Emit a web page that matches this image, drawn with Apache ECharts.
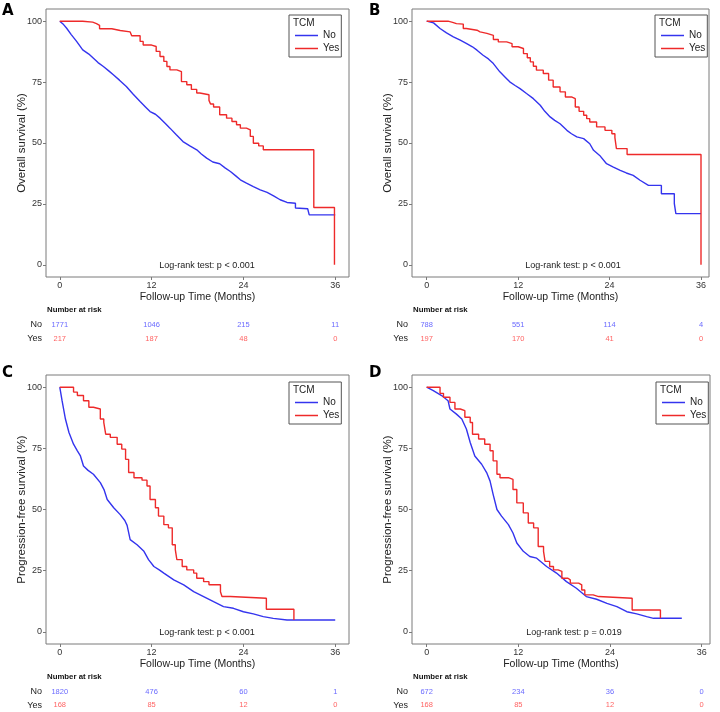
<!DOCTYPE html>
<html><head><meta charset="utf-8">
<script src="https://cdn.jsdelivr.net/npm/echarts@6/dist/echarts.min.js"></script>
<style>html,body{margin:0;padding:0;background:#fff}#c{width:720px;height:712px}</style>
</head><body><div id="c"></div>
<script>
// ---------- tick labels / categories ----------
const tickMonths = [0, 12, 24, 36];
const tickPct = [0, 25, 50, 75, 100];
const riskTimes = [0, 12, 24, 36];
const groups = ['No', 'Yes'];
const panelLetters = ['A', 'B', 'C', 'D'];
const yTitles = ['Overall survival (%)', 'Overall survival (%)', 'Progression-free survival (%)', 'Progression-free survival (%)'];
const pTexts = ['Log-rank test: p < 0.001', 'Log-rank test: p < 0.001', 'Log-rank test: p < 0.001', 'Log-rank test: p = 0.019'];

// ---------- Panel A (OS, all) ----------
const A_no_t = [0, 0.5, 0.9, 1.5, 2.2, 3.0, 3.8, 4.4, 5.0, 5.7, 6.4, 7.0, 7.8, 8.7, 9.6, 10.5, 11.2, 11.8, 12.5, 13.1, 13.8, 14.4, 15.2, 16.1, 17.0, 17.9, 18.5, 19.2, 20.0, 20.9, 21.6, 22.3, 23.0, 23.6, 24.4, 25.3, 26.2, 27.1, 28.0, 28.8, 29.7, 30.8, 30.8, 32.4, 32.6, 36.0];
const A_no_s = [100, 98.6, 97.1, 94.5, 91.7, 88.2, 86.5, 84.8, 83.0, 81.4, 79.6, 78.0, 75.8, 73.2, 70.0, 67.0, 64.8, 62.9, 61.8, 60.2, 58.0, 56.1, 53.5, 50.6, 48.8, 47.2, 45.5, 43.8, 42.2, 41.5, 39.8, 38.3, 36.5, 34.9, 33.5, 32.1, 30.8, 29.7, 28.2, 26.7, 25.6, 25.3, 23.3, 23.0, 20.5, 20.5];
const A_yes_t = [0, 3.0, 4.3, 4.8, 5.2, 6.8, 7.9, 9.2, 9.4, 10.5, 10.9, 12.0, 12.6, 13.1, 13.6, 14.0, 14.4, 15.3, 15.9, 16.6, 17.2, 17.9, 18.3, 19.5, 19.7, 20.1, 20.9, 21.8, 22.5, 23.1, 23.6, 24.4, 24.9, 25.3, 26.0, 26.6, 33.2, 35.9];
const A_yes_s = [100, 99.6, 99.0, 98.3, 96.9, 96.2, 95.6, 95.0, 94.0, 91.7, 90.2, 89.6, 87.6, 85.5, 83.5, 81.4, 80.0, 79.3, 75.2, 73.9, 72.0, 70.5, 69.8, 67.5, 66.0, 64.8, 61.6, 60.2, 58.8, 57.5, 56.1, 55.4, 52.7, 49.9, 48.8, 47.2, 23.5, 0];
const A_risk_no = [1771, 1046, 215, 11];
const A_risk_yes = [217, 187, 48, 0];

// ---------- Panel B (OS, subgroup) ----------
const B_no_t = [0, 0.9, 1.75, 2.6, 3.5, 4.4, 5.25, 6.0, 6.6, 7.4, 8.1, 8.75, 9.6, 10.3, 10.9, 11.6, 12.25, 13.1, 14.0, 14.9, 15.5, 16.2, 16.8, 17.5, 18.4, 19.0, 19.7, 20.6, 21.4, 21.9, 22.7, 23.6, 24.5, 25.4, 26.2, 27.1, 28.0, 29.1, 30.8, 30.8, 32.5, 32.5, 32.7, 32.7, 36.0];
const B_no_s = [100, 99.3, 97.0, 95.2, 93.6, 92.2, 90.8, 89.5, 88.1, 86.0, 84.5, 82.6, 79.2, 77.0, 75.1, 73.6, 72.3, 70.3, 68.2, 65.5, 63.0, 60.7, 59.3, 57.9, 55.2, 53.8, 52.5, 51.8, 49.7, 47.0, 44.9, 41.5, 40.1, 38.8, 37.7, 36.7, 34.7, 32.6, 32.6, 29.2, 29.2, 25.1, 25.1, 21.0, 21.0];
const B_yes_t = [0, 2.8, 3.4, 3.9, 4.8, 5.2, 6.6, 7.0, 7.9, 8.75, 9.4, 10.5, 11.2, 12.0, 12.7, 13.2, 13.6, 14.0, 14.4, 15.3, 16.0, 16.6, 17.5, 18.2, 19.0, 19.5, 20.0, 20.6, 21.0, 21.4, 22.3, 23.4, 24.3, 24.7, 24.9, 26.3, 36.0];
const B_yes_s = [100, 99.5, 99.0, 98.8, 97.0, 96.3, 95.6, 95.0, 94.2, 92.5, 91.5, 90.8, 89.5, 88.8, 86.7, 85.0, 83.3, 81.5, 79.9, 78.5, 75.8, 73.0, 71.0, 68.9, 68.2, 64.8, 63.0, 61.4, 60.0, 58.6, 56.6, 55.2, 53.8, 52.2, 47.7, 45.3, 0];
const B_risk_no = [788, 551, 114, 4];
const B_risk_yes = [197, 170, 41, 0];

// ---------- Panel C (PFS, all) ----------
const C_no_t = [0, 0.3, 0.74, 1.2, 1.8, 2.3, 2.7, 3.1, 3.7, 4.4, 5.3, 5.8, 6.2, 7.05, 7.9, 8.5, 8.8, 9.2, 10.1, 11.0, 11.6, 12.3, 13.0, 13.6, 14.9, 16.2, 17.5, 18.8, 20.1, 21.4, 22.7, 24.0, 25.3, 26.6, 27.9, 29.7, 36.0];
const C_no_s = [100, 94.5, 87.0, 81.5, 76.7, 74.0, 71.9, 67.8, 66.0, 64.4, 61.0, 58.0, 54.1, 50.7, 47.9, 45.5, 43.5, 37.7, 35.6, 32.9, 29.5, 26.7, 25.3, 24.0, 21.2, 19.2, 16.4, 14.4, 12.3, 10.3, 9.6, 8.2, 7.3, 6.2, 5.5, 4.8, 4.8];
const C_yes_t = [0, 1.8, 2.3, 3.1, 3.8, 4.4, 5.3, 5.75, 6.0, 6.6, 7.5, 8.1, 8.6, 9.0, 9.7, 10.75, 11.4, 11.8, 12.5, 12.9, 13.6, 14.2, 14.7, 15.1, 15.3, 16.0, 16.6, 17.5, 17.9, 18.8, 19.5, 21.0, 21.2, 22.3, 27.0, 30.6];
const C_yes_s = [100, 98.0, 96.6, 94.5, 91.8, 91.1, 87.0, 85.6, 80.8, 79.5, 76.7, 74.7, 70.5, 65.1, 63.0, 62.0, 59.6, 54.1, 50.7, 47.3, 43.8, 42.5, 35.6, 33.6, 29.5, 26.7, 25.3, 24.0, 21.9, 20.5, 19.2, 16.4, 14.4, 13.7, 9.2, 4.8];
const C_risk_no = [1820, 476, 60, 1];
const C_risk_yes = [168, 85, 12, 0];

// ---------- Panel D (PFS, subgroup) ----------
const D_no_t = [0, 0.87, 1.96, 2.8, 3.05, 3.9, 4.6, 5.2, 5.7, 6.3, 7.2, 7.85, 8.3, 8.7, 9.2, 9.8, 10.7, 11.3, 11.8, 12.65, 13.5, 14.4, 15.7, 17.0, 18.3, 19.6, 20.9, 22.25, 23.6, 24.9, 26.2, 27.5, 28.8, 29.7, 33.4];
const D_no_s = [100, 98.6, 96.6, 94.5, 91.1, 89.0, 87.0, 82.9, 77.4, 71.9, 68.5, 65.1, 61.6, 56.2, 50.0, 47.3, 43.8, 40.4, 36.3, 32.9, 30.8, 30.1, 26.7, 24.0, 20.5, 17.8, 14.4, 13.3, 11.6, 10.3, 8.2, 7.3, 6.2, 5.5, 5.5];
const D_yes_t = [0, 1.75, 2.2, 3.05, 3.7, 4.4, 5.0, 5.7, 6.0, 6.8, 7.6, 8.3, 8.7, 9.2, 9.6, 10.7, 11.3, 11.8, 12.65, 13.3, 14.0, 14.6, 15.3, 15.5, 16.1, 16.6, 17.2, 17.7, 18.5, 18.8, 19.9, 20.3, 20.7, 21.8, 22.5, 26.9, 30.6];
const D_yes_s = [100, 97.5, 95.9, 93.8, 91.1, 90.4, 87.7, 85.6, 80.8, 78.8, 76.7, 74.0, 69.9, 64.4, 63.0, 62.3, 58.2, 52.7, 48.6, 44.5, 42.5, 34.9, 32.9, 28.8, 26.7, 25.3, 24.7, 21.9, 21.2, 19.9, 19.2, 17.1, 15.1, 14.4, 13.7, 8.9, 5.5];
const D_risk_no = [672, 234, 36, 0];
const D_risk_yes = [168, 85, 12, 0];

// ---------- assembly ----------
const curves = [
  {noT: A_no_t, noS: A_no_s, yesT: A_yes_t, yesS: A_yes_s, rNo: A_risk_no, rYes: A_risk_yes},
  {noT: B_no_t, noS: B_no_s, yesT: B_yes_t, yesS: B_yes_s, rNo: B_risk_no, rYes: B_risk_yes},
  {noT: C_no_t, noS: C_no_s, yesT: C_yes_t, yesS: C_yes_s, rNo: C_risk_no, rYes: C_risk_yes},
  {noT: D_no_t, noS: D_no_s, yesT: D_yes_t, yesS: D_yes_s, rNo: D_risk_no, rYes: D_risk_yes}
];

// layout (pixels)
const layout = [
  {left: 46, top: 9, width: 303, height: 268, xmin: -1.8, xmax: 37.8, riskTop: 318, riskH: 28, nar: 310, letterX: 2, letterY: 4, legL: 289, legT: 15, pX: 207, pY: 266},
  {left: 412, top: 9, width: 297, height: 268, xmin: -1.93, xmax: 37.05, riskTop: 318, riskH: 28, nar: 310, letterX: 369, letterY: 4, legL: 655, legT: 15, pX: 573, pY: 266},
  {left: 46, top: 375, width: 303, height: 269, xmin: -1.8, xmax: 37.8, riskTop: 685, riskH: 27, nar: 677, letterX: 2, letterY: 366, legL: 289, legT: 382, pX: 207, pY: 633},
  {left: 412, top: 375, width: 298, height: 269, xmin: -1.92, xmax: 37.09, riskTop: 685, riskH: 27, nar: 677, letterX: 369, letterY: 366, legL: 656, legT: 382, pX: 574, pY: 633}
];

const BLUE = '#3434ee', RED = '#ee2a2a';
const RBLUE = '#4444ff', RRED = '#ff3a3a';
const FONT = 'Liberation Sans, Arial, sans-serif';
const zip = (t, s) => t.map((v, i) => [v, s[i]]);

const grid = [], xAxis = [], yAxis = [], series = [], legend = [], graphic = [];

layout.forEach((L, i) => {
  const c = curves[i];
  grid.push({left: L.left, top: L.top, width: L.width, height: L.height, show: true, borderColor: '#7a7a7a', borderWidth: 1, backgroundColor: '#fff'});
  xAxis.push({type: 'value', gridIndex: 2 * i, min: L.xmin, max: L.xmax,
    axisLine: {show: false, onZero: false}, splitLine: {show: false},
    axisTick: {show: true, length: 3, customValues: tickMonths, lineStyle: {color: '#7a7a7a'}},
    axisLabel: {customValues: tickMonths, fontSize: 9, color: '#333', margin: 4, fontFamily: FONT},
    name: 'Follow-up Time (Months)', nameLocation: 'middle', nameGap: 15, nameMoveOverlap: false,
    nameTextStyle: {fontSize: 10.5, color: '#222', fontFamily: FONT}});
  yAxis.push({type: 'value', gridIndex: 2 * i, min: -5, max: 105,
    axisLine: {show: false, onZero: false}, splitLine: {show: false},
    axisTick: {show: true, length: 3, customValues: tickPct, lineStyle: {color: '#7a7a7a'}},
    axisLabel: {customValues: tickPct, fontSize: 9, color: '#333', margin: 4, fontFamily: FONT},
    name: yTitles[i], nameLocation: 'middle', nameGap: 18, nameRotate: 90, nameMoveOverlap: false,
    nameTextStyle: {fontSize: 11.5, color: '#222', fontFamily: FONT}});
  grid.push({left: L.left, top: L.riskTop, width: L.width, height: L.riskH, show: false});
  xAxis.push({type: 'value', gridIndex: 2 * i + 1, min: L.xmin, max: L.xmax, show: false});
  yAxis.push({type: 'category', gridIndex: 2 * i + 1, data: groups, inverse: true,
    axisLine: {show: false}, axisTick: {show: false}, splitLine: {show: false},
    axisLabel: {fontSize: 9, color: '#222', margin: 4, fontFamily: FONT}});

  series.push({type: 'line', name: 'No', xAxisIndex: 2 * i, yAxisIndex: 2 * i, data: zip(c.noT, c.noS),
    symbol: 'none', color: BLUE, lineStyle: {width: 1.4, color: BLUE}, silent: true});
  series.push({type: 'line', name: 'Yes', xAxisIndex: 2 * i, yAxisIndex: 2 * i, data: zip(c.yesT, c.yesS),
    step: 'end', symbol: 'none', color: RED, lineStyle: {width: 1.4, color: RED}, silent: true});

  const riskSeries = (vals, grp, col) => ({type: 'scatter', xAxisIndex: 2 * i + 1, yAxisIndex: 2 * i + 1,
    data: riskTimes.map((t, k) => ({value: [t, grp, vals[k]]})), symbolSize: 2,
    itemStyle: {color: 'rgba(255,255,255,0)'}, silent: true,
    label: {show: true, position: 'inside', formatter: p => String(p.value[2]), fontSize: 7.5, color: col, fontFamily: FONT}});
  series.push(riskSeries(c.rNo, 'No', RBLUE));
  series.push(riskSeries(c.rYes, 'Yes', RRED));

  legend.push({data: groups, left: L.legL, top: L.legT, orient: 'vertical', borderColor: '#555', borderWidth: 1,
    padding: [15, 2, 3, 6], itemWidth: 23, itemHeight: 1.5, itemGap: 2, icon: 'rect', selectedMode: false,
    textStyle: {fontSize: 10, color: '#222', fontFamily: FONT, lineHeight: 11}});

  graphic.push({type: 'text', left: L.letterX, top: L.letterY, style: {text: panelLetters[i], font: '900 15px "DejaVu Sans", sans-serif', fill: '#000'}});
  graphic.push({type: 'text', left: L.legL + 4, top: L.legT + 3, style: {text: 'TCM', font: '10px ' + FONT, fill: '#222'}});
  graphic.push({type: 'text', x: L.pX, y: L.pY, style: {text: pTexts[i], font: '9px ' + FONT, fill: '#222', align: 'center', verticalAlign: 'middle'}});
  graphic.push({type: 'text', x: L.left + 1, y: L.nar, style: {text: 'Number at risk', font: 'bold 7.8px ' + FONT, fill: '#111', verticalAlign: 'middle'}});
});

const chart = echarts.init(document.getElementById('c'), null, {renderer: 'canvas'});
chart.setOption({animation: false, backgroundColor: '#fff', textStyle: {fontFamily: FONT},
  grid, xAxis, yAxis, series, legend, graphic});
</script>
</body></html>
